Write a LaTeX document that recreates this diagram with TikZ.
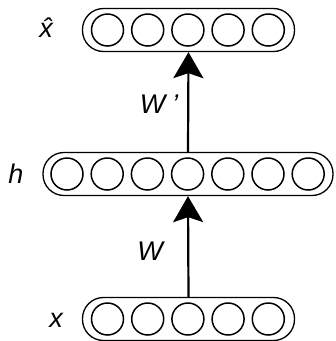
\documentclass[tikz,border=0pt]{standalone}
\usepackage{fontspec}
\setmainfont{Liberation Sans}
\usetikzlibrary{arrows.meta}
\begin{document}
\begin{tikzpicture}[x=1pt,y=-1pt,
  layer/.style={draw,line width=1.3pt,rounded corners=21pt,minimum height=43pt,inner sep=0pt},
  unit/.style={draw,circle,line width=1.5pt,minimum size=32pt,inner sep=0pt},
  lbl/.style={font=\fontsize{27}{29}\selectfont\itshape},
  conn/.style={line width=2.2pt,-{Stealth[length=26pt,width=30pt,inset=5pt]}}]
\useasboundingbox (0,0) rectangle (336,341);
% output layer
\node[layer,minimum width=212pt] (top) at (188.5,30) {};
\foreach \i in {0,...,4} \node[unit] (t\i) at (107.5+40.2*\i,30) {};
% hidden layer
\node[layer,minimum width=290pt] (mid) at (188,174) {};
\foreach \i in {0,...,6} \node[unit] (m\i) at (67+40.2*\i,174) {};
% input layer
\node[layer,minimum width=212pt] (bot) at (188.5,319) {};
\foreach \i in {0,...,4} \node[unit] (b\i) at (107.5+40.2*\i,319) {};
% labels
\node[lbl] (lxhat) at (46,28) {\^{x}};
\node[lbl] (lh) at (16,174) {h};
\node[lbl] (lx) at (56,320) {x};
\node[lbl] (lwp) at (159,104) {W\hspace{7pt}'};
\node[lbl] (lw) at (150,251) {W};
% weight connections
\draw[conn] (bot.north) -- (mid.south);
\draw[conn] (mid.north) -- (top.south);
\end{tikzpicture}
\end{document}
